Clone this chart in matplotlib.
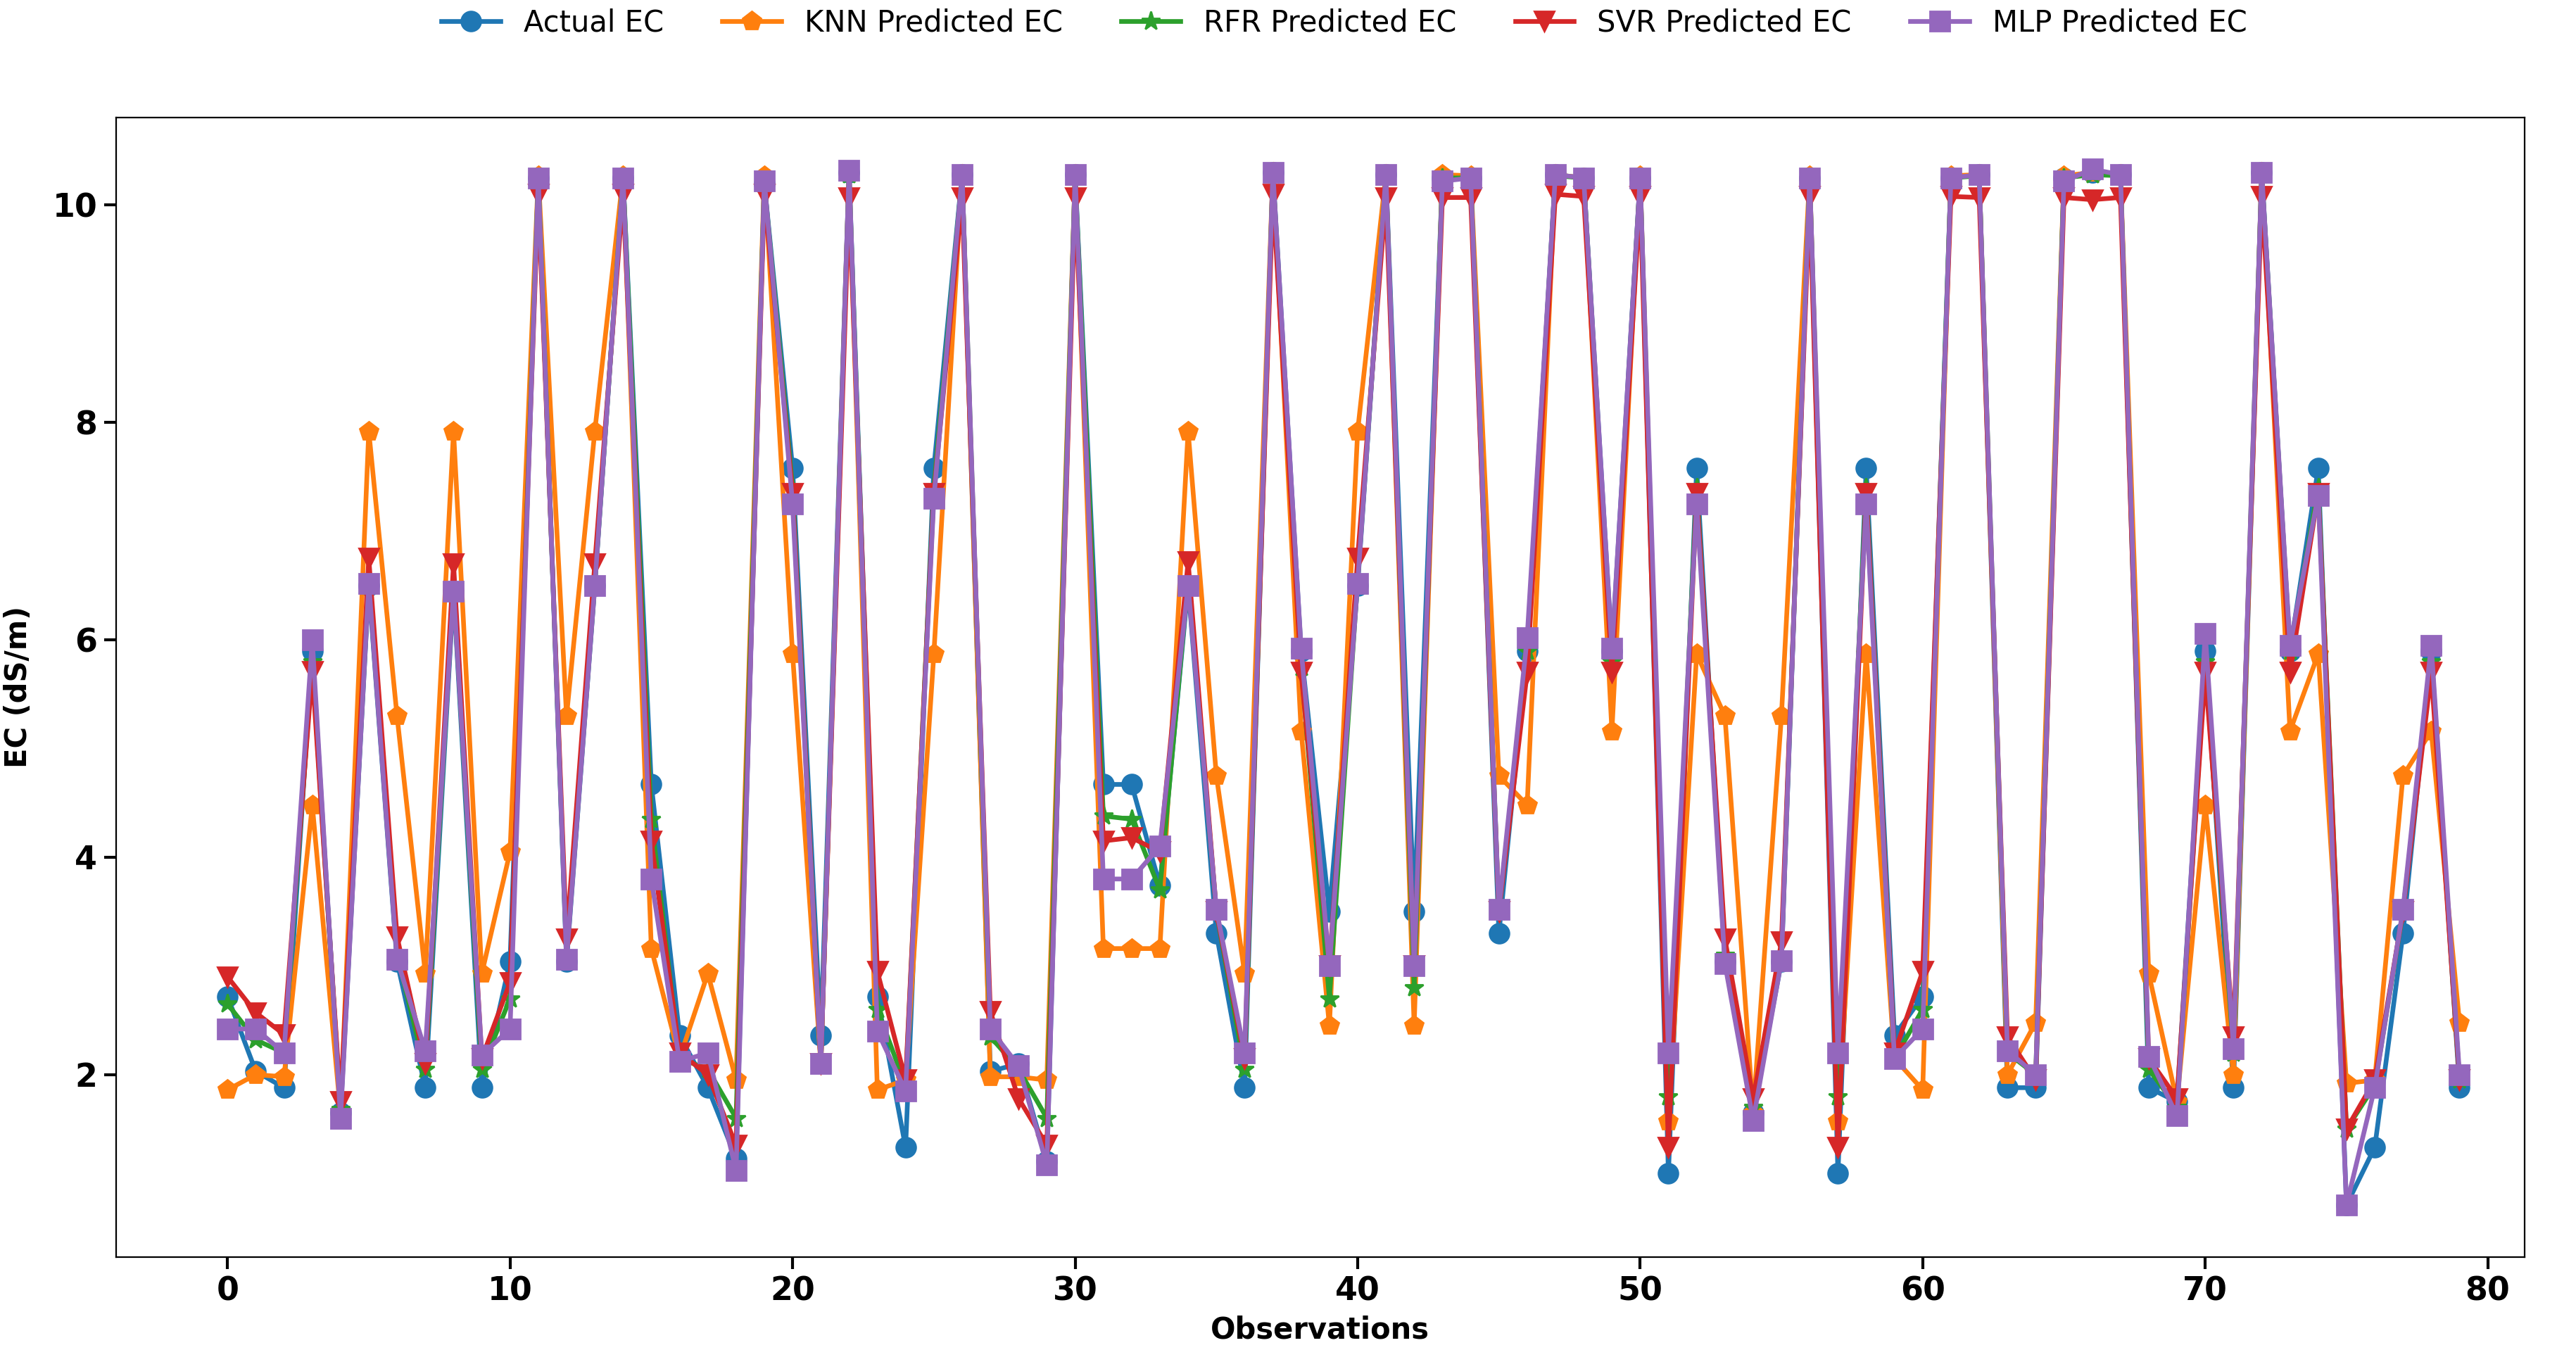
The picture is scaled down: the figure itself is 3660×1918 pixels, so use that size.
import matplotlib.pyplot as plt
import numpy as np

actual = [2.72, 2.03, 1.88, 5.90, 1.65, 6.50, 3.04, 1.88, 6.45, 1.88,
          3.04, 10.25, 3.04, 6.50, 10.25, 4.67, 2.36, 1.88, 1.23, 10.20,
          7.58, 2.36, 10.30, 2.72, 1.33, 7.58, 10.28, 2.03, 2.10, 1.20,
          10.28, 4.67, 4.67, 3.74, 6.50, 3.30, 1.88, 10.30, 5.90, 3.50,
          6.50, 10.28, 3.50, 10.25, 10.25, 3.30, 5.90, 10.28, 10.25, 5.90,
          10.25, 1.09, 7.58, 3.04, 1.65, 3.04, 10.25, 1.09, 7.58, 2.36,
          2.72, 10.25, 10.28, 1.88, 1.88, 10.25, 10.30, 10.28, 1.88, 1.75,
          5.90, 1.88, 10.30, 5.90, 7.58, 0.80, 1.33, 3.30, 5.90, 1.88]

knn = [1.86, 2.00, 1.98, 4.48, 1.65, 7.92, 5.30, 2.93, 7.92, 2.93,
       4.05, 10.27, 5.30, 7.92, 10.27, 3.16, 2.15, 2.93, 1.95, 10.27,
       5.87, 2.10, 10.30, 1.86, 1.95, 5.87, 10.28, 1.98, 1.98, 1.95,
       10.28, 3.16, 3.16, 3.16, 7.92, 4.75, 2.93, 10.30, 5.16, 2.45,
       7.92, 10.28, 2.45, 10.28, 10.27, 4.75, 4.48, 10.28, 10.25, 5.16,
       10.27, 1.57, 5.87, 5.30, 1.65, 5.30, 10.27, 1.57, 5.87, 2.15,
       1.86, 10.27, 10.28, 2.00, 2.48, 10.27, 10.30, 10.28, 2.93, 1.75,
       4.48, 2.00, 10.30, 5.16, 5.87, 1.92, 1.95, 4.75, 5.16, 2.48]

rfr = [2.65, 2.32, 2.20, 5.80, 1.68, 6.55, 3.10, 2.05, 6.50, 2.05,
       2.70, 10.25, 3.10, 6.52, 10.25, 4.35, 2.15, 2.05, 1.60, 10.20,
       7.40, 2.10, 10.28, 2.60, 1.90, 7.40, 10.27, 2.35, 2.05, 1.60,
       10.27, 4.38, 4.35, 3.70, 6.55, 3.50, 2.05, 10.28, 5.75, 2.70,
       6.55, 10.27, 2.80, 10.25, 10.25, 3.50, 5.90, 10.27, 10.25, 5.80,
       10.25, 1.80, 7.40, 3.10, 1.70, 3.10, 10.25, 1.80, 7.40, 2.15,
       2.60, 10.25, 10.27, 2.20, 2.00, 10.25, 10.28, 10.27, 2.05, 1.70,
       5.80, 2.20, 10.28, 5.90, 7.40, 1.50, 1.90, 3.50, 5.80, 1.95]

svr = [2.90, 2.57, 2.37, 5.71, 1.75, 6.75, 3.27, 2.10, 6.70, 2.15,
       2.85, 10.10, 3.25, 6.70, 10.10, 4.15, 2.20, 2.00, 1.35, 10.10,
       7.35, 2.10, 10.07, 2.95, 1.95, 7.35, 10.07, 2.58, 1.78, 1.35,
       10.07, 4.15, 4.18, 4.05, 6.72, 3.50, 2.15, 10.10, 5.70, 3.00,
       6.75, 10.07, 3.00, 10.07, 10.07, 3.50, 5.70, 10.10, 10.08, 5.70,
       10.08, 1.33, 7.35, 3.25, 1.78, 3.22, 10.08, 1.33, 7.35, 2.20,
       2.95, 10.08, 10.07, 2.35, 1.95, 10.07, 10.05, 10.07, 2.15, 1.78,
       5.70, 2.35, 10.08, 5.70, 7.35, 1.50, 1.95, 3.50, 5.70, 1.95]

mlp = [2.42, 2.42, 2.20, 6.00, 1.60, 6.52, 3.06, 2.22, 6.45, 2.18,
       2.42, 10.25, 3.06, 6.50, 10.25, 3.80, 2.12, 2.20, 1.12, 10.22,
       7.25, 2.10, 10.32, 2.40, 1.85, 7.30, 10.28, 2.42, 2.08, 1.17,
       10.28, 3.80, 3.80, 4.10, 6.50, 3.52, 2.20, 10.30, 5.92, 3.00,
       6.52, 10.28, 3.00, 10.22, 10.25, 3.52, 6.02, 10.28, 10.25, 5.92,
       10.25, 2.20, 7.25, 3.02, 1.58, 3.05, 10.25, 2.20, 7.25, 2.15,
       2.42, 10.25, 10.28, 2.22, 2.00, 10.22, 10.33, 10.28, 2.17, 1.62,
       6.06, 2.24, 10.30, 5.95, 7.33, 0.80, 1.88, 3.52, 5.95, 2.00]

series = [
    ("Actual EC", actual, "o"),
    ("KNN Predicted EC", knn, "p"),
    ("RFR Predicted EC", rfr, "*"),
    ("SVR Predicted EC", svr, "v"),
    ("MLP Predicted EC", mlp, "s"),
]

obs = np.arange(len(actual))

fig, ax = plt.subplots(figsize=(18.3, 9.59), dpi=200)
fig.subplots_adjust(left=0.045, right=0.98, top=0.913, bottom=0.069)

for label, vals, marker in series:
    ax.plot(obs, vals, marker=marker, markersize=10, linewidth=2.4, label=label)

ax.set_xlim(-3.95, 81.3)
ax.set_xlabel("Observations", fontsize=15, fontweight="bold")
ax.set_ylabel("EC (dS/m)", fontsize=15, fontweight="bold", labelpad=10)
ax.set_xticks(range(0, 81, 10))
ax.tick_params(axis="both", labelsize=16.5, width=1.5, length=6)
for lab in ax.get_xticklabels() + ax.get_yticklabels():
    lab.set_fontweight("bold")

ax.legend(loc="upper center", bbox_to_anchor=(0.51, 1.119), ncol=5,
          frameon=False, fontsize=15)

fig.savefig("out.png", dpi=200)
